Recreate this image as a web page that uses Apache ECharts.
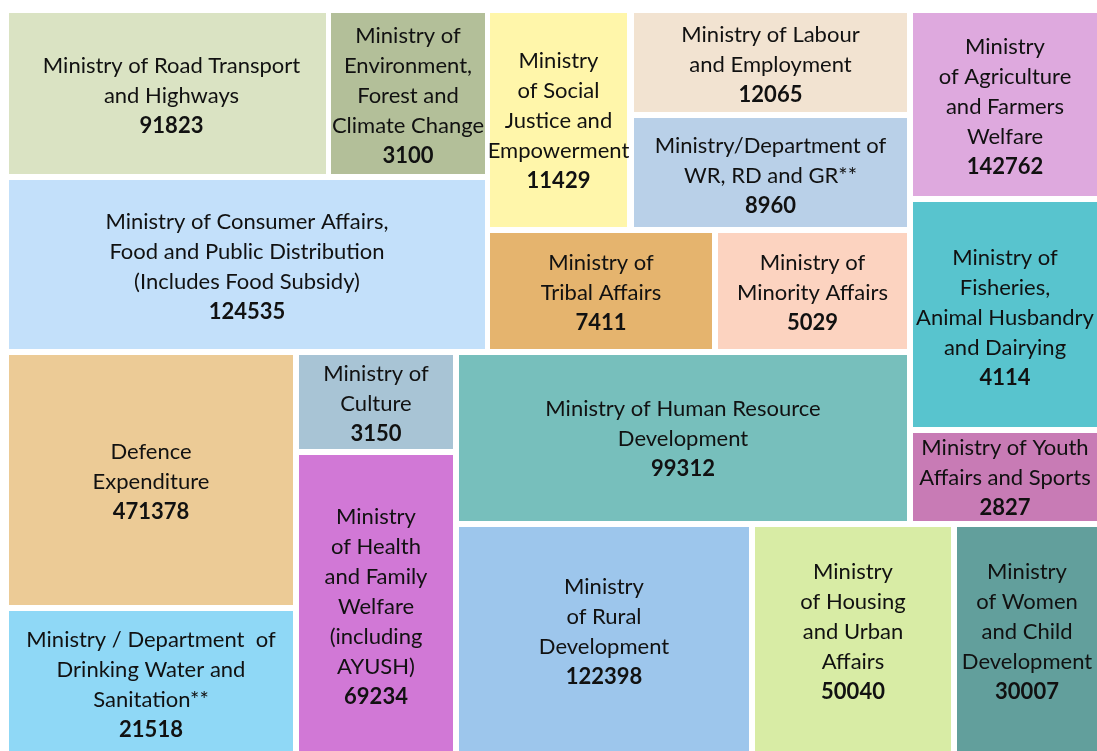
<!DOCTYPE html>
<html>
<head>
<meta charset="utf-8">
<script src="https://cdn.jsdelivr.net/npm/echarts@6/dist/echarts.min.js"></script>
<style>
  html, body { margin: 0; padding: 0; background: #ffffff; }
  #main { width: 1097px; height: 751px; }
</style>
</head>
<body>
<div id="main"></div>
<script>
// 各部委名称（按图中换行）
const names = [
  'Ministry of Road Transport\nand Highways',
  'Ministry of\nEnvironment,\nForest and\nClimate Change',
  'Ministry\nof Social\nJustice and\nEmpowerment',
  'Ministry of Labour\nand Employment',
  'Ministry/Department of\nWR, RD and GR**',
  'Ministry\nof Agriculture\nand Farmers\nWelfare',
  'Ministry of Consumer Affairs,\nFood and Public Distribution\n(Includes Food Subsidy)',
  'Ministry of\nTribal Affairs',
  'Ministry of\nMinority Affairs',
  'Ministry of\nFisheries,\nAnimal Husbandry\nand Dairying',
  'Ministry of Youth\nAffairs and Sports',
  'Defence\nExpenditure',
  'Ministry of\nCulture',
  'Ministry of Human Resource\nDevelopment',
  'Ministry / Department  of\nDrinking Water and\nSanitation**',
  'Ministry\nof Health\nand Family\nWelfare\n(including\nAYUSH)',
  'Ministry\nof Rural\nDevelopment',
  'Ministry\nof Housing\nand Urban\nAffairs',
  'Ministry\nof Women\nand Child\nDevelopment'
]

// 数值
const values = [
  91823, 3100, 11429, 12065, 8960, 142762, 124535, 7411, 5029, 4114,
  2827, 471378, 3150, 99312, 21518, 69234, 122398, 50040, 30007
]

const colors = [
  '#dae3c3', '#b3bf99', '#fff6aa', '#f2e3d1', '#b9d0e8', '#dea9de',
  '#c3e0fa', '#e5b46e', '#fcd3c0', '#58c4ce', '#c87bb5', '#eccb96',
  '#a8c4d5', '#77bfbc', '#8fd8f6', '#d178d6', '#9dc6ec', '#d8eca5',
  '#629f9c'
]

/** 版面：每块的 [x0, y0, x1, y1]（与数值无关，图中面积不按数值） */
const tiles = [
  [9, 13, 326, 174],
  [331, 13, 485, 174],
  [490, 13, 627, 227],
  [634, 13, 907, 112],
  [634, 118, 907, 227],
  [913, 13, 1097, 196],
  [9, 180, 485, 349],
  [490, 233, 712, 349],
  [718, 233, 907, 349],
  [913, 202, 1097, 427],
  [913, 433, 1097, 521],
  [9, 355, 293, 605],
  [299, 355, 453, 449],
  [459, 355, 907, 521],
  [9, 611, 293, 751],
  [299, 455, 453, 751],
  [459, 527, 749, 751],
  [755, 527, 951, 751],
  [957, 527, 1097, 751]
]

/** 文字偏移 [dx, dy] */
const labelShift = [
  [4, 2], [0, 2], [0, 1], [0, 2], [0, 3], [0, 2], [0, 2], [0, 2], [0, 2], [0, 3],
  [0, 1], [0, 2], [0, 2], [0, 1], [0, 4], [0, 4], [0, -7], [0, -7], [0, -7]
]

const chart = echarts.init(document.getElementById('main'))

const seriesData = names.map((n, i) => ({
  name: n,
  value: [tiles[i][0], tiles[i][1], tiles[i][2], tiles[i][3], values[i]],
  itemStyle: {color: colors[i]}
}))

chart.setOption({
  backgroundColor: '#ffffff',
  animation: false,
  grid: {left: 0, right: 0, top: 0, bottom: 0},
  xAxis: {type: 'value', min: 0, max: 1097, show: false},
  yAxis: {type: 'value', min: 0, max: 751, inverse: true, show: false},
  series: [
    {
      type: 'custom',
      data: seriesData,
      encode: {x: [0, 2], y: [1, 3]},
      renderItem: function (params, api) {
        const p0 = api.coord([api.value(0), api.value(1)])
        const p1 = api.coord([api.value(2), api.value(3)])
        const i = params.dataIndex
        return {
          type: 'rect',
          shape: {x: p0[0], y: p0[1], width: p1[0] - p0[0], height: p1[1] - p0[1]},
          style: {fill: colors[i]},
          textContent: {
            style: {
              text: names[i] + '\n{b|' + values[i] + '}',
              fontFamily: 'Lato',
              fontSize: 22,
              lineHeight: 30,
              fill: '#111111',
              align: 'center',
              rich: {
                b: {fontFamily: 'Lato', fontSize: 22, fontWeight: 'bold', lineHeight: 30, fill: '#111111'}
              }
            }
          },
          textConfig: {position: 'inside', offset: labelShift[i]}
        }
      }
    }
  ]
})
</script>
</body>
</html>
